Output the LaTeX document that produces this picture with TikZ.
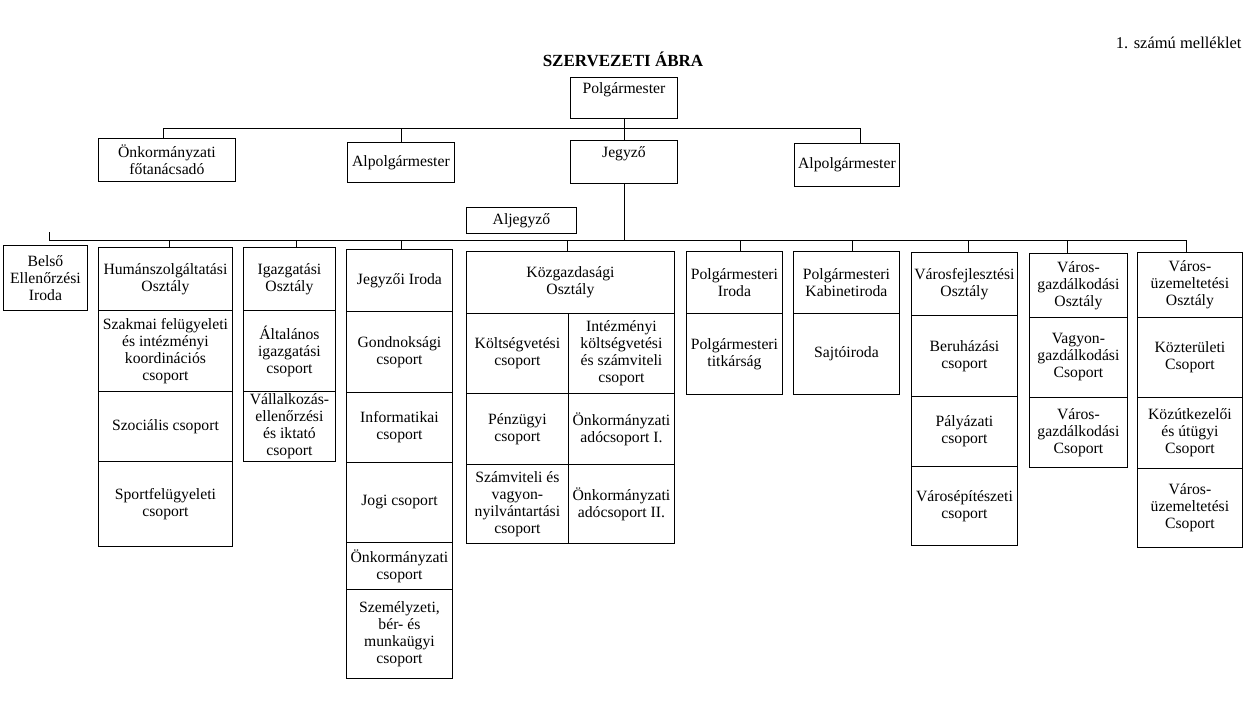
\documentclass[tikz,border=0pt]{standalone}
\usepackage{fontspec}
\setmainfont{Liberation Serif}
\newcommand\bodyfnt{\fontsize{15.7}{17}\selectfont}
\tikzset{
  ln/.style={line width=0.9pt},
  box/.style={draw, line width=0.9pt, anchor=north west, inner sep=0pt, align=center, font=\bodyfnt},
  cell/.style 2 args={box, minimum width=#1pt, minimum height=#2pt},
  toptext/.style={text depth=20pt},
}
\begin{document}
\begin{tikzpicture}[x=1pt,y=-1pt]
\useasboundingbox (0,0) rectangle (1255,707);
% titles
\node[font=\fontsize{17}{20}\selectfont\bfseries] (title) at (623,59) {SZERVEZETI ÁBRA};
\node[font=\fontsize{16.5}{20}\selectfont, anchor=east] (mell) at (1245,43) {1. számú melléklet};
% top level
\node[cell={107}{41}, toptext] (polg) at (570,77) {Polgármester};
\node[cell={137}{43}] (onk) at (98,138) {Önkormányzati\\főtanácsadó};
\node[cell={107}{40}] (alp1) at (347,142) {Alpolgármester};
\node[cell={107}{43}, toptext] (jegyzo) at (570,140) {Jegyző};
\node[cell={105}{43}] (alp2) at (794,143) {Alpolgármester};
\node[cell={110}{26}] (aljegyzo) at (466,207) {Aljegyző};
% columns
\node[cell={84}{65}] (belso) at (3,245) {Belső\\Ellenőrzési\\Iroda};
% Humán
\node[cell={134}{63}] (hum1) at (98,247) {Humánszolgáltatási\\Osztály};
\node[cell={134}{81}] (hum2) at (98,310) {Szakmai felügyeleti\\és intézményi\\koordinációs\\csoport};
\node[cell={134}{70}] (hum3) at (98,391) {Szociális csoport};
\node[cell={134}{85}] (hum4) at (98,461) {Sportfelügyeleti\\csoport};
% Igazgatási
\node[cell={92}{63}] (ig1) at (243,247) {Igazgatási\\Osztály};
\node[cell={92}{81}] (ig2) at (243,310) {Általános\\igazgatási\\csoport};
\node[cell={92}{70}] (ig3) at (243,391) {Vállalkozás-\\ellenőrzési\\és iktató\\csoport};
% Jegyzői
\node[cell={106}{62}] (jg1) at (346,249) {Jegyzői Iroda};
\node[cell={106}{81}] (jg2) at (346,311) {Gondnoksági\\csoport};
\node[cell={106}{70}] (jg3) at (346,392) {Informatikai\\csoport};
\node[cell={106}{80}] (jg4) at (346,462) {Jogi csoport};
\node[cell={106}{47}] (jg5) at (346,542) {Önkormányzati\\csoport};
\node[cell={106}{89}] (jg6) at (346,589) {Személyzeti,\\bér- és\\munkaügyi\\csoport};
% Közgazdasági
\node[cell={208}{62}] (kg) at (466,251) {Közgazdasági\\Osztály};
\node[cell={102}{80}] (kgl1) at (466,313) {Költségvetési\\csoport};
\node[cell={102}{71}] (kgl2) at (466,393) {Pénzügyi\\csoport};
\node[cell={102}{79}] (kgl3) at (466,464) {Számviteli és\\vagyon-\\nyilvántartási\\csoport};
\node[cell={106}{80}] (kgr1) at (568,313) {Intézményi\\költségvetési\\és számviteli\\csoport};
\node[cell={106}{71}] (kgr2) at (568,393) {Önkormányzati\\adócsoport I.};
\node[cell={106}{79}] (kgr3) at (568,464) {Önkormányzati\\adócsoport II.};
% Polgármesteri Iroda
\node[cell={96}{62}] (pi1) at (686,251) {Polgármesteri\\Iroda};
\node[cell={96}{81}] (pi2) at (686,313) {Polgármesteri\\titkárság};
% Kabinetiroda
\node[cell={106}{62}] (kab1) at (793,251) {Polgármesteri\\Kabinetiroda};
\node[cell={106}{81}] (kab2) at (793,313) {Sajtóiroda};
% Városfejlesztési
\node[cell={106}{63}] (vf1) at (911,252) {Városfejlesztési\\Osztály};
\node[cell={106}{81}] (vf2) at (911,315) {Beruházási\\csoport};
\node[cell={106}{70}] (vf3) at (911,396) {Pályázati\\csoport};
\node[cell={106}{79}] (vf4) at (911,466) {Városépítészeti\\csoport};
% Városgazdálkodási
\node[cell={98}{64}] (vg1) at (1029,253) {Város-\\gazdálkodási\\Osztály};
\node[cell={98}{80}] (vg2) at (1029,317) {Vagyon-\\gazdálkodási\\Csoport};
\node[cell={98}{70}] (vg3) at (1029,397) {Város-\\gazdálkodási\\Csoport};
% Városüzemeltetési
\node[cell={105}{65}] (vu1) at (1137,252) {Város-\\üzemeltetési\\Osztály};
\node[cell={105}{80}] (vu2) at (1137,317) {Közterületi\\Csoport};
\node[cell={105}{71}] (vu3) at (1137,397) {Közútkezelői\\és útügyi\\Csoport};
\node[cell={105}{79}] (vu4) at (1137,468) {Város-\\üzemeltetési\\Csoport};
% connectors, upper level
\coordinate (ub) at (0,128);
\coordinate (ubL) at (163,128);
\coordinate (ubR) at (860,128);
\draw[ln] (polg.south) -- (jegyzo.north);
\draw[ln] (onk.north -| ubL) -- (ubL) -- (ubR) -- (alp2.north -| ubR);
\draw[ln] (alp1.north) -- (alp1.north |- ub);
% lower level
\coordinate (lb) at (0,240);
\coordinate (lbL) at (49,240);
\coordinate (lbT) at (49,232);
\coordinate (lbR) at (1186,240);
\draw[ln] (jegyzo.south) -- (jegyzo.south |- lb);
\draw[ln] (lbT) -- (lbL) -- (lbR) -- (vu1.north -| lbR);
\foreach \n/\x in {hum1/169,ig1/296,jg1/401,kg/567,pi1/740,kab1/852,vf1/968,vg1/1067}
  \draw[ln] (\n.north -| \x,0) -- (\x,240);
\end{tikzpicture}
\end{document}
